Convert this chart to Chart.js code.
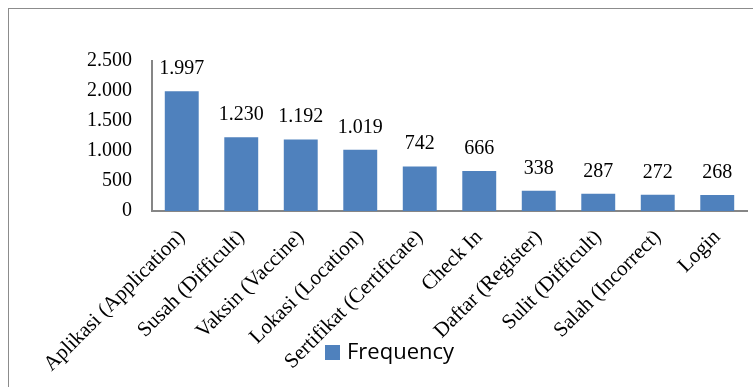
<!DOCTYPE html>
<html>
<head>
<meta charset="utf-8">
<script src="https://cdn.jsdelivr.net/npm/chart.js@4"></script>
<style>
  html, body { margin: 0; padding: 0; background: #fff; }
  #wrap { position: relative; width: 753px; height: 387px; overflow: hidden; }
  #frame { position: absolute; left: 8px; top: 8px; width: 760px; height: 400px;
           border-top: 1.5px solid #8c8c8c; border-left: 1.5px solid #8c8c8c; box-sizing: border-box; }
  canvas { position: absolute; left: 0; top: 0; }
</style>
</head>
<body>
<div id="wrap">
  <div id="frame"></div>
  <canvas id="c" width="753" height="387"></canvas>
</div>
<script>
const categories = [
  "Aplikasi (Application)", "Susah (Difficult)", "Vaksin (Vaccine)", "Lokasi (Location)",
  "Sertifikat (Certificate)", "Check In", "Daftar (Register)", "Sulit (Difficult)",
  "Salah (Incorrect)", "Login"
];
const frequency = [1997, 1230, 1192, 1019, 742, 666, 338, 287, 272, 268];
const seriesName = "Frequency";
const yTicks = [0, 500, 1000, 1500, 2000, 2500];

const BAR_COLOR = "#4F81BD";
const SERIF = "'Liberation Serif', 'Times New Roman', serif";

function fmt(v) {
  return String(v).replace(/\B(?=(\d{3})+(?!\d))/g, ".");
}

const dataLabels = {
  id: "dataLabels",
  afterDatasetsDraw(chart) {
    const ctx = chart.ctx;
    ctx.save();
    ctx.font = "20px " + SERIF;
    ctx.fillStyle = "#000";
    ctx.textAlign = "center";
    ctx.textBaseline = "alphabetic";
    chart.getDatasetMeta(0).data.forEach((el, i) => {
      ctx.fillText(fmt(chart.data.datasets[0].data[i]), el.x, el.y - 17);
    });
    ctx.restore();
  }
};

const customLegend = {
  id: "customLegend",
  afterDraw(chart) {
    const ctx = chart.ctx;
    const ds = chart.data.datasets[0];
    ctx.save();
    ctx.fillStyle = ds.backgroundColor;
    ctx.fillRect(325, 345, 15, 15);
    ctx.fillStyle = "#000";
    ctx.font = "22px 'Open Sans', 'Liberation Sans', sans-serif";
    ctx.textAlign = "left";
    ctx.textBaseline = "alphabetic";
    ctx.fillText(ds.label, 347, 359);
    ctx.restore();
  }
};

new Chart(document.getElementById("c"), {
  type: "bar",
  data: {
    labels: categories,
    datasets: [{
      label: seriesName,
      data: frequency,
      backgroundColor: BAR_COLOR,
      borderWidth: 0,
      barPercentage: 0.57,
      categoryPercentage: 1.0
    }]
  },
  options: {
    responsive: false,
    animation: false,
    devicePixelRatio: 1,
    layout: { padding: { left: 0, top: 61, right: 6, bottom: 0 } },
    plugins: { legend: { display: false }, tooltip: { enabled: false } },
    scales: {
      x: {
        grid: { display: false, drawTicks: false },
        border: { display: true, color: "#868686", width: 2 },
        ticks: {
          color: "#000",
          font: { family: SERIF, size: 21 },
          minRotation: 45,
          maxRotation: 45,
          autoSkip: false,
          padding: 14
        },
        afterFit(scale) { scale.height = 387 - 211; }
      },
      y: {
        min: 0,
        max: 2500,
        grid: { display: false, drawTicks: false },
        border: { display: true, color: "#868686", width: 2 },
        afterBuildTicks(scale) { scale.ticks = yTicks.map(v => ({ value: v })); },
        ticks: {
          color: "#000",
          font: { family: SERIF, size: 20 },
          padding: 20,
          callback: (v) => fmt(v)
        },
        afterFit(scale) { scale.width = 152; }
      }
    }
  },
  plugins: [dataLabels, customLegend]
});
</script>
</body>
</html>
